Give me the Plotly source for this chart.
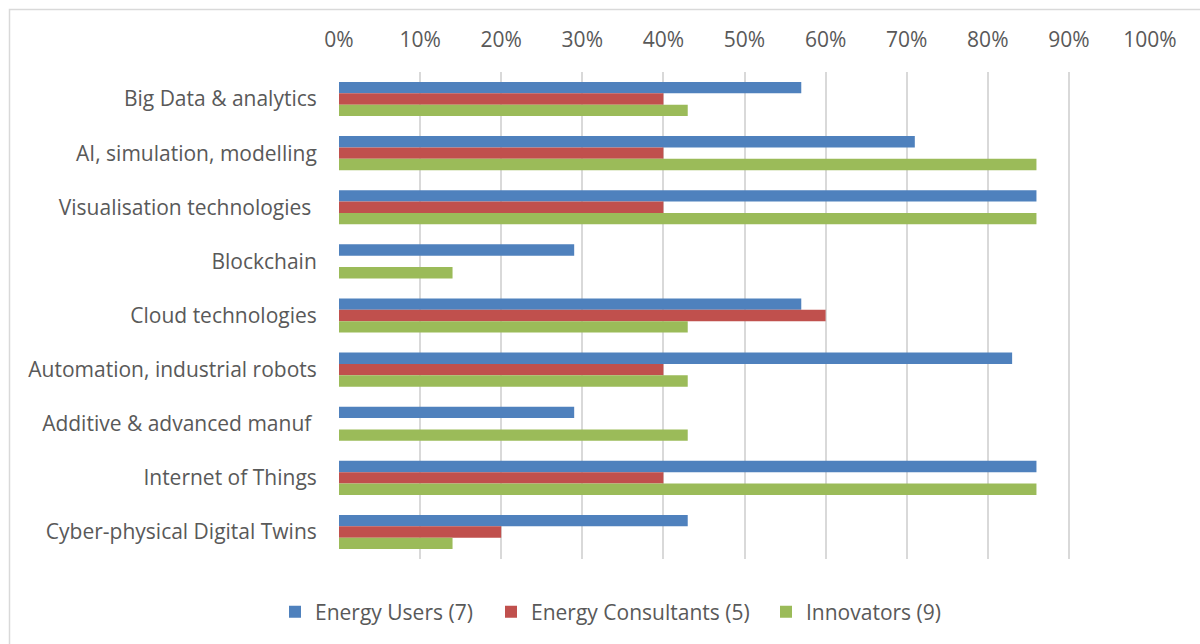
import plotly.graph_objects as go

categories = [
    "Big Data & analytics",
    "AI, simulation, modelling",
    "Visualisation technologies\u00a0",
    "Blockchain",
    "Cloud technologies",
    "Automation, industrial robots",
    "Additive & advanced manuf\u00a0",
    "Internet of Things",
    "Cyber-physical Digital Twins",
]
energy_users = [57, 71, 86, 29, 57, 83, 29, 86, 43]
energy_consultants = [40, 40, 40, 0, 60, 40, 0, 40, 20]
innovators = [43, 86, 86, 14, 43, 43, 43, 86, 14]

series = [
    ("Energy Users (7)", energy_users, "#4F81BD", "legend", 289),
    ("Energy Consultants (5)", energy_consultants, "#C0504D", "legend2", 505),
    ("Innovators (9)", innovators, "#9BBB59", "legend3", 780),
]

FONT = "Open Sans"
FS = 21
TEXT = "#595959"
GRID = "#d9d9d9"

W, H = 1200, 644
L, R, T, B = 339, 50, 72, 85
pw, ph = W - L - R, H - T - B
LEG_Y = 612
LEG_OFFSET = 14

fig = go.Figure()
for name, vals, color, leg, _ in series:
    fig.add_trace(go.Bar(
        y=categories,
        x=[v / 100 for v in vals],
        name=name,
        orientation="h",
        marker=dict(color=color, line=dict(width=0)),
        legend=leg,
    ))

def px_x(x):
    return (x - L) / pw

def px_y(y):
    return (H - B - y) / ph

# one legend per series so each entry sits at its own horizontal position
legends = {}
for name, _, _, leg, sx in series:
    legends[leg] = dict(
        xref="container", yref="container",
        x=(sx - LEG_OFFSET) / W, xanchor="left",
        y=(H - LEG_Y) / H, yanchor="middle",
        orientation="h", itemwidth=30,
        font=dict(family=FONT, size=FS, color=TEXT),
        bgcolor="rgba(0,0,0,0)",
    )

fig.update_layout(
    width=W, height=H,
    margin=dict(l=L, r=R, t=T, b=B),
    paper_bgcolor="white", plot_bgcolor="white",
    barmode="group", bargap=0.37, bargroupgap=0,
    font=dict(family=FONT, size=FS, color=TEXT),
    showlegend=True,
    xaxis=dict(
        side="top", range=[0, 1], dtick=0.1, tickformat=".0%",
        showgrid=True, gridcolor=GRID, gridwidth=1.5,
        zeroline=False, showline=False,
        ticks="outside", ticklen=16, tickcolor="rgba(0,0,0,0)",
        tickfont=dict(family=FONT, size=FS, color=TEXT),
        fixedrange=True,
    ),
    yaxis=dict(
        type="category", autorange="reversed",
        showgrid=False, zeroline=False, showline=False,
        ticks="outside", ticklen=17, tickcolor="rgba(0,0,0,0)",
        tickfont=dict(family=FONT, size=FS, color=TEXT),
        fixedrange=True,
    ),
    shapes=[
        dict(type="rect", xref="paper", yref="paper",
             x0=px_x(9.5), x1=px_x(1210), y0=px_y(9.5), y1=px_y(660),
             line=dict(color=GRID, width=1.5), fillcolor="rgba(0,0,0,0)",
             layer="below"),
    ],
    **legends,
)

fig.write_html("out.html")
